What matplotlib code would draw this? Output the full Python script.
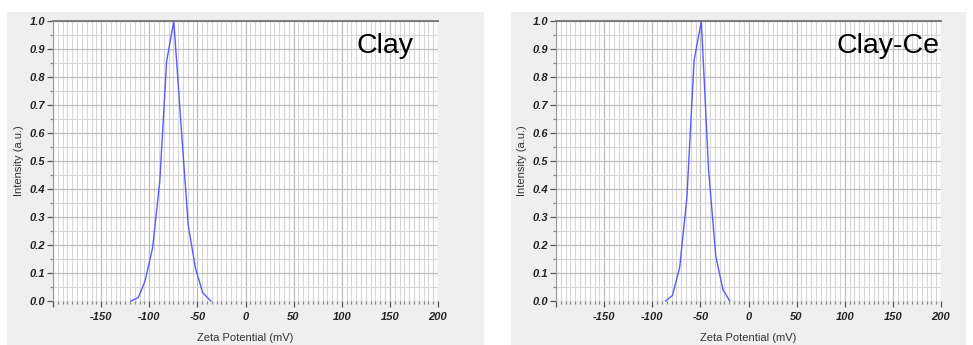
import matplotlib
matplotlib.use("Agg")
import matplotlib.pyplot as plt
from matplotlib.patches import Rectangle
from matplotlib.ticker import MultipleLocator

# Zeta potential distributions (mV vs normalised intensity)
clay_mv = [-119, -111.5, -104.5, -96.5, -89, -82, -74.5, -67, -59.5, -52, -44.5, -36]
clay_int = [0.0, 0.012, 0.07, 0.19, 0.43, 0.855, 1.0, 0.63, 0.27, 0.117, 0.03, 0.0]

clayce_mv = [-86, -79, -71.5, -64, -56.5, -49, -41.5, -34, -26.5, -19.5]
clayce_int = [0.0, 0.02, 0.12, 0.37, 0.86, 1.0, 0.47, 0.16, 0.04, 0.0]

panel_titles = ["Clay", "Clay-Ce"]
x_ticks = [-200, -150, -100, -50, 0, 50, 100, 150, 200]
x_ticklabels = ["", "-150", "-100", "-50", "0", "50", "100", "150", "200"]
y_ticks = [0.0, 0.1, 0.2, 0.3, 0.4, 0.5, 0.6, 0.7, 0.8, 0.9, 1.0]
y_ticklabels = [f"{v:.1f}" for v in y_ticks]

W, H = 973, 345
fig = plt.figure(figsize=(W / 100, H / 100), dpi=100)
fig.patch.set_facecolor("white")

FONT = "Liberation Sans"
tick_font = dict(family=FONT, weight="bold", style="italic", size=8, color="#222222")


def px_box(x0, y0, x1, y1):
    """Convert a pixel box (top-left origin) to figure fractions."""
    return [x0 / W, 1 - y1 / H, (x1 - x0) / W, (y1 - y0) / H]


# light grey background panels, kept behind the axes
for x0, x1 in [(7, 484), (511, 966)]:
    l, b, w, h = px_box(x0, 12, x1, 345)
    fig.patches.append(Rectangle((l, b), w, h, transform=fig.transFigure,
                                 facecolor="#efefef", edgecolor="none", zorder=-10))

series = [(clay_mv, clay_int), (clayce_mv, clayce_int)]
ax_lefts = [53, 556]
title_x = [357, 837]

for i, (xs, ys) in enumerate(series):
    ax = fig.add_axes(px_box(ax_lefts[i], 21, ax_lefts[i] + 385, 301))
    ax.set_zorder(1)
    ax.set_facecolor("white")
    ax.set_xlim(-200, 200)
    ax.set_ylim(0, 1.0)

    ax.xaxis.set_minor_locator(MultipleLocator(5))
    ax.yaxis.set_minor_locator(MultipleLocator(0.05))
    ax.set_xticks(x_ticks)
    ax.set_xticklabels(x_ticklabels, fontdict=tick_font)
    ax.set_yticks(y_ticks)
    ax.set_yticklabels(y_ticklabels, fontdict=tick_font)

    ax.grid(which="minor", color="#d6d6d6", lw=0.8)
    ax.grid(which="major", color="#bdbdbd", lw=0.9)
    ax.set_axisbelow(True)

    ax.tick_params(which="major", direction="out", length=4, width=0.9,
                   color="#555555", pad=1.5)
    ax.tick_params(which="minor", direction="out", length=2.5, width=0.9,
                   color="#888888")
    ax.tick_params(axis="x", which="major", pad=4)

    for side in ["right", "bottom"]:
        ax.spines[side].set_visible(False)
    ax.spines["top"].set_color("#7a7a7a")
    ax.spines["top"].set_linewidth(1.4)
    ax.spines["left"].set_color("#9a9a9a")
    ax.spines["left"].set_linewidth(0.8)

    ax.plot(xs, ys, color="#5a5aff", lw=1.0, zorder=3, clip_on=False)

    ax.set_xlabel("Zeta Potential (mV)", family=FONT, size=8, color="#333333",
                  labelpad=8)
    ax.set_ylabel("Intensity (a.u.)", family=FONT, size=8, color="#333333",
                  labelpad=4)

    fig.text(title_x[i] / W, 1 - 53 / H, panel_titles[i], family=FONT, size=20.5,
             color="black", ha="left", va="baseline", zorder=5)

fig.savefig("out.png", dpi=100, facecolor=fig.get_facecolor())
